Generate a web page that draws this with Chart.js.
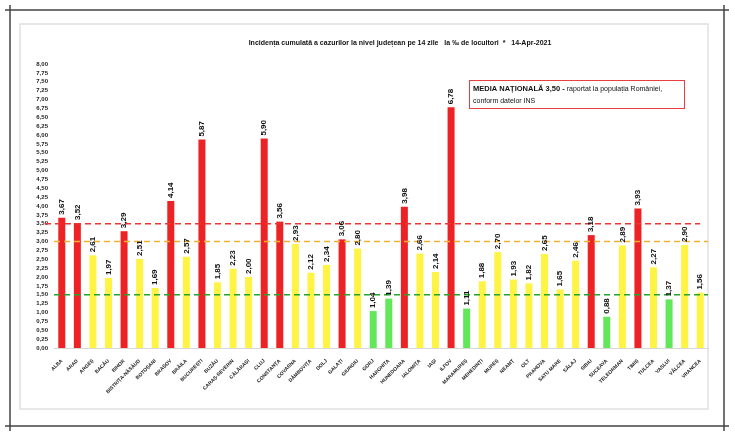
<!DOCTYPE html>
<html>
<head>
<meta charset="utf-8">
<script src="https://cdn.jsdelivr.net/npm/chart.js@4.4.0/dist/chart.umd.min.js"></script>
<style>
  html, body { margin: 0; padding: 0; background: #fff; }
  #wrap { position: relative; width: 735px; height: 436px; }
</style>
</head>
<body>
<div id="wrap"><canvas id="bar-chart" width="735" height="436"></canvas></div>
<script>
var judete = ["ALBA", "ARAD", "ARGEȘ", "BACĂU", "BIHOR", "BISTRIȚA-NĂSĂUD", "BOTOȘANI", "BRAȘOV", "BRĂILA", "BUCUREȘTI",
  "BUZĂU", "CARAȘ-SEVERIN", "CĂLĂRAȘI", "CLUJ", "CONSTANȚA", "COVASNA", "DÂMBOVIȚA", "DOLJ", "GALAȚI", "GIURGIU",
  "GORJ", "HARGHITA", "HUNEDOARA", "IALOMIȚA", "IAȘI", "ILFOV", "MARAMUREȘ", "MEHEDINȚI", "MUREȘ", "NEAMȚ",
  "OLT", "PRAHOVA", "SATU MARE", "SĂLAJ", "SIBIU", "SUCEAVA", "TELEORMAN", "TIMIȘ", "TULCEA", "VASLUI",
  "VÂLCEA", "VRANCEA"];
var incidenta = [3.67, 3.52, 2.61, 1.97, 3.29, 2.51, 1.69, 4.14, 2.57, 5.87,
  1.85, 2.23, 2.00, 5.90, 3.56, 2.93, 2.12, 2.34, 3.06, 2.80,
  1.04, 1.39, 3.98, 2.66, 2.14, 6.78, 1.11, 1.88, 2.70, 1.93,
  1.82, 2.65, 1.65, 2.46, 3.18, 0.88, 2.89, 3.93, 2.27, 1.37,
  2.90, 1.56];
var mediaNationala = 3.50;
var pragGalben = 3.00;
var pragVerde = 1.50;

function fmt(v) { return v.toFixed(2).replace(".", ","); }

var culori = incidenta.map(function (v) {
  if (v > pragGalben) return "#ED2224";
  if (v >= pragVerde) return "#FFF344";
  return "#62E65A";
});

var decor = {
  id: "decor",
  beforeDraw: function (chart) {
    var c = chart.ctx;
    c.save();
    c.fillStyle = "#fff";
    c.fillRect(0, 0, chart.width, chart.height);
    // rama exterioara
    c.strokeStyle = "#444";
    c.lineWidth = 1.5;
    c.beginPath();
    c.moveTo(5, 10); c.lineTo(729, 10);
    c.moveTo(5, 426); c.lineTo(729, 426);
    c.moveTo(10, 5); c.lineTo(10, 431);
    c.moveTo(724, 5); c.lineTo(724, 431);
    c.stroke();
    // rama interioara
    c.strokeStyle = "#e0e0e0";
    c.strokeRect(20, 24, 688, 385);
    // titlu
    c.fillStyle = "#111";
    c.font = "bold 7px 'Liberation Sans'";
    c.textAlign = "center";
    c.textBaseline = "middle";
    c.fillText("Incidența cumulată a cazurilor la nivel județean pe 14 zile   la ‰ de locuitori  *   14-Apr-2021", 400, 43);
    // caseta media
    c.strokeStyle = "#E84040";
    c.lineWidth = 1;
    c.strokeRect(469.5, 80.5, 215, 28);
    c.textAlign = "left";
    c.font = "bold 7.5px 'Liberation Sans'";
    var t1 = "MEDIA NAȚIONALĂ 3,50 - ";
    c.fillText(t1, 473, 89);
    var w = c.measureText(t1).width;
    c.font = "7px 'Liberation Sans'";
    c.fillText("raportat la populația României,", 473 + w, 89);
    c.fillText("conform datelor INS", 473, 101);
    c.restore();
  },
  afterDatasetsDraw: function (chart) {
    var c = chart.ctx;
    var y = chart.scales.y;
    var a = chart.chartArea;
    c.save();
    c.lineWidth = 1.6;
    c.setLineDash([6, 4]);
    [[mediaNationala, "#EE3333", 45, a.right - 8], [pragGalben, "#F2B230", a.left, a.right], [pragVerde, "#22A52A", a.left, a.right]].forEach(function (l) {
      c.strokeStyle = l[1];
      c.beginPath();
      c.moveTo(l[2], y.getPixelForValue(l[0]));
      c.lineTo(l[3], y.getPixelForValue(l[0]));
      c.stroke();
    });
    c.setLineDash([]);
    // etichete valori
    var meta = chart.getDatasetMeta(0);
    c.fillStyle = "#111";
    c.font = "bold 8px 'Liberation Sans'";
    c.textAlign = "left";
    c.textBaseline = "middle";
    meta.data.forEach(function (bar, i) {
      c.save();
      c.translate(bar.x, bar.y - 3);
      c.rotate(-Math.PI / 2);
      c.fillText(fmt(incidenta[i]), 0, 0);
      c.restore();
    });
    c.restore();
  }
};

new Chart(document.getElementById("bar-chart"), {
  type: "bar",
  data: {
    labels: judete,
    datasets: [{
      data: incidenta,
      backgroundColor: culori,
      barPercentage: 0.9,
      categoryPercentage: 0.5
    }]
  },
  options: {
    responsive: false,
    animation: false,
    layout: { padding: { left: 20, right: 27, top: 64, bottom: 0 } },
    plugins: { legend: { display: false }, tooltip: { enabled: false } },
    scales: {
      x: {
        grid: { display: false },
        border: { display: true, color: "#d8d8d8", width: 1 },
        afterFit: function (s) { s.height = 88; },
        ticks: {
          autoSkip: false,
          minRotation: 45,
          maxRotation: 45,
          padding: 2,
          color: "#222",
          font: { family: "Liberation Sans", size: 5, weight: "bold" }
        }
      },
      y: {
        min: 0,
        max: 8,
        grid: { display: false, drawTicks: false },
        border: { display: false },
        afterFit: function (s) { s.width = 34; },
        ticks: {
          stepSize: 0.25,
          autoSkip: false,
          padding: 6,
          color: "#222",
          font: { family: "Liberation Sans", size: 6, weight: "bold" },
          callback: function (v) { return fmt(v); }
        }
      }
    }
  },
  plugins: [decor]
});
</script>
</body>
</html>
